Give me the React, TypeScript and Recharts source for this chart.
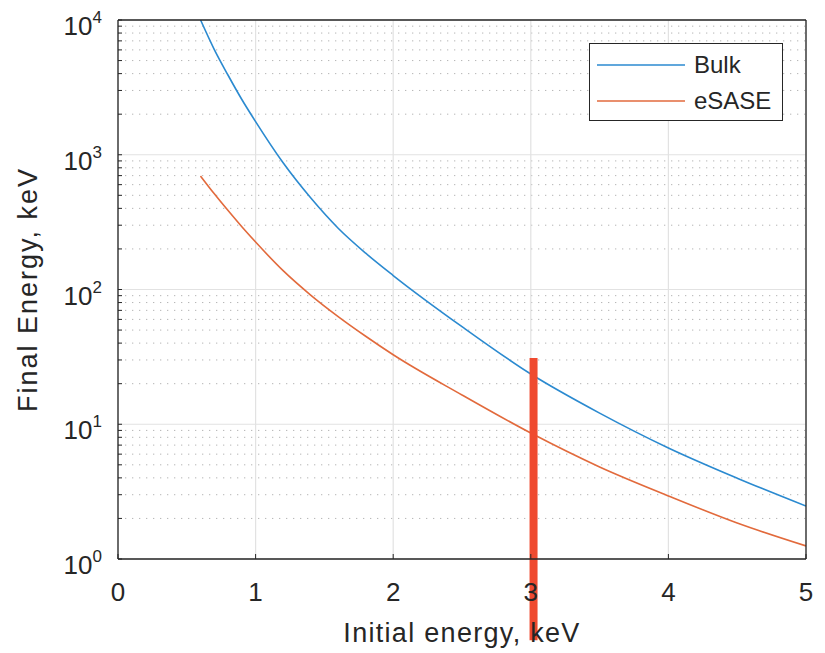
import { LineChart, Line, XAxis, YAxis, CartesianGrid, Legend, ReferenceLine } from 'recharts';

// (keV)
const initialEnergy = [0.6, 0.7, 0.8, 0.9, 1, 1.2, 1.4, 1.6, 1.8, 2, 2.5, 3, 3.5, 4, 4.5, 5];
const bulk = [10000, 6030, 3890, 2570, 1760, 871, 479, 285, 186, 127, 53, 23.6, 12.1, 6.67, 3.98, 2.47];
const esase = [695, 513, 385, 292, 225, 138, 91, 63, 45, 32.8, 16.5, 8.6, 4.82, 2.94, 1.85, 1.25];

const xTicks = [0, 1, 2, 3, 4, 5];
const decades = [1, 10, 100, 1000, 10000];
const minorSteps = [2, 3, 4, 5, 6, 7, 8, 9];

// red marker drawn over the figure
const markerEnergy = 3.02;
const markerRange = [31, 0.25];

const data = initialEnergy.map((e, i) => ({ e, bulk: bulk[i], esase: esase[i] }));
const minorTicks = decades.slice(0, -1).flatMap((d) => minorSteps.map((m) => m * d));
const allYTicks = [...decades, ...minorTicks].sort((a, b) => a - b);

const INK = '#262626';
const FONT = '"Liberation Sans", Arial, Helvetica, sans-serif';

const XTick = ({ x, y, payload }: any) => (
  <text x={x} y={y + 42} textAnchor="middle" fontSize={26} fontFamily={FONT} fill={INK}>
    {payload.value}
  </text>
);

const YTick = ({ x, y, payload }: any) => {
  const exp = Math.round(Math.log10(payload.value));
  if (Math.pow(10, exp) !== payload.value) return null;
  return (
    <text x={x} y={y + 15} textAnchor="end" fontSize={26} fontFamily={FONT} fill={INK}>
      <tspan>10</tspan>
      <tspan dy={-12} fontSize={17}>{exp}</tspan>
    </text>
  );
};

const XTitle = ({ viewBox }: any) => (
  <text
    x={viewBox.x + viewBox.width / 2}
    y={642}
    textAnchor="middle"
    fontSize={27}
    letterSpacing={1.3}
    fontFamily={FONT}
    fill={INK}
  >
    Initial energy, keV
  </text>
);

const YTitle = ({ viewBox }: any) => {
  const cy = viewBox.y + viewBox.height / 2;
  return (
    <text
      x={37}
      y={cy}
      transform={`rotate(-90 37 ${cy})`}
      textAnchor="middle"
      fontSize={27}
      letterSpacing={2}
      fontFamily={FONT}
      fill={INK}
    >
      Final Energy, keV
    </text>
  );
};

const LegendBox = ({ payload }: any) => (
  <div
    style={{
      width: 194,
      height: 78,
      boxSizing: 'border-box',
      border: `1.3px solid ${INK}`,
      background: '#fff',
      paddingTop: 3,
      fontFamily: FONT,
      fontSize: 24,
      color: INK,
    }}
  >
    {(payload || []).map((p: any) => (
      <div key={p.value} style={{ display: 'flex', alignItems: 'center', height: 36 }}>
        <svg width={104} height={6} style={{ display: 'block' }}>
          <line x1={7} x2={95} y1={3} y2={3} stroke={p.color} strokeWidth={1.6} />
        </svg>
        <span style={{ lineHeight: '36px' }}>{p.value}</span>
      </div>
    ))}
  </div>
);

export default function App() {
  return (
    <div style={{ position: 'absolute', left: 0, top: 0, width: 825, height: 653, background: '#fff' }}>
      <LineChart width={825} height={653} data={data} margin={{ top: 19, right: 18, bottom: 64, left: 58 }}>
        <CartesianGrid vertical={false} horizontalValues={minorTicks} stroke="#b5b5b5" strokeDasharray="1.3 5.7" />
        <CartesianGrid verticalValues={xTicks} horizontalValues={decades} stroke="#e2e2e2" strokeWidth={1.2} />
        <XAxis
          dataKey="e"
          type="number"
          domain={[0, 5]}
          ticks={xTicks}
          allowDataOverflow
          height={30}
          tickSize={-5}
          tickMargin={5}
          tick={<XTick />}
          axisLine={{ stroke: INK, strokeWidth: 1.3 }}
          tickLine={{ stroke: INK }}
          label={<XTitle />}
        />
        <XAxis
          xAxisId="top"
          orientation="top"
          type="number"
          domain={[0, 5]}
          ticks={xTicks}
          allowDataOverflow
          height={1}
          tickSize={-5}
          tick={false}
          axisLine={{ stroke: INK, strokeWidth: 1.3 }}
          tickLine={{ stroke: INK }}
        />
        <YAxis
          scale="log"
          type="number"
          domain={[1, 10000]}
          ticks={allYTicks}
          allowDataOverflow
          interval={0}
          width={60}
          tickSize={-4}
          tickMargin={20}
          tick={<YTick />}
          axisLine={{ stroke: INK, strokeWidth: 1.3 }}
          tickLine={{ stroke: INK }}
          label={<YTitle />}
        />
        <YAxis
          yAxisId="right"
          orientation="right"
          scale="log"
          type="number"
          domain={[1, 10000]}
          ticks={allYTicks}
          allowDataOverflow
          interval={0}
          width={1}
          tickSize={-4}
          tick={false}
          axisLine={{ stroke: INK, strokeWidth: 1.3 }}
          tickLine={{ stroke: INK }}
        />
        <Legend
          layout="vertical"
          align="center"
          verticalAlign="middle"
          wrapperStyle={{ left: 589, top: 43, width: 194, height: 78 }}
          content={<LegendBox />}
        />
        <Line
          name="Bulk"
          dataKey="bulk"
          type="monotone"
          stroke="#2b8ad0"
          strokeWidth={1.6}
          dot={false}
          isAnimationActive={false}
        />
        <Line
          name="eSASE"
          dataKey="esase"
          type="monotone"
          stroke="#e26a3c"
          strokeWidth={1.6}
          dot={false}
          isAnimationActive={false}
        />
        <ReferenceLine
          segment={[
            { x: markerEnergy, y: markerRange[0] },
            { x: markerEnergy, y: markerRange[1] },
          ]}
          stroke="#ef4a2f"
          strokeWidth={8}
          ifOverflow="visible"
        />
      </LineChart>
    </div>
  );
}
